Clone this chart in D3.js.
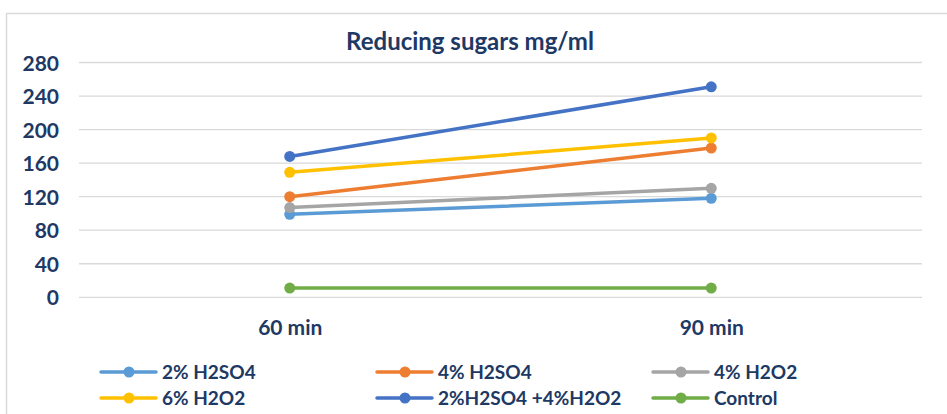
<!DOCTYPE html>
<html>
<head>
<meta charset="utf-8">
<script src="https://cdn.jsdelivr.net/npm/d3@7"></script>
<style>
  html, body { margin: 0; padding: 0; background: #fff; }
  svg { display: block; }
  text { font-family: Lato, "Open Sans", sans-serif; font-weight: 700; fill: #203864; }
</style>
</head>
<body>
<svg id="chart" width="947" height="414"></svg>
<script>
// Time points on the x axis
const categories = ["60 min", "90 min"];

// Reducing sugar concentration (mg/ml) per pretreatment
const h2so4_2 = [99, 118];
const h2so4_4 = [120, 178];
const h2o2_4 = [107, 130];
const h2o2_6 = [149, 190];
const h2so4_2_h2o2_4 = [168, 251];
const control = [11, 11];

const yTicks = [0, 40, 80, 120, 160, 200, 240, 280];

const seriesNames = ["2% H2SO4", "4% H2SO4", "4% H2O2", "6% H2O2", "2%H2SO4 +4%H2O2", "Control"];
const seriesValues = [h2so4_2, h2so4_4, h2o2_4, h2o2_6, h2so4_2_h2o2_4, control];
const seriesColors = ["#5B9BD5", "#ED7D31", "#A5A5A5", "#FFC000", "#4472C4", "#70AD47"];

const series = seriesNames.map((name, i) => ({
  name, color: seriesColors[i],
  values: categories.map((c, j) => ({ cat: c, v: seriesValues[i][j] }))
}));

const svg = d3.select("#chart");

// outer chart frame
svg.append("rect")
  .attr("x", 6.5).attr("y", 13.5).attr("width", 960).attr("height", 420)
  .attr("fill", "#fff").attr("stroke", "#D9D9D9").attr("stroke-width", 1.5);

const plot = { left: 79, right: 922, top: 62.5, bottom: 297.3 };

const x = d3.scalePoint().domain(categories).range([plot.left, plot.right]).padding(0.5);
const y = d3.scaleLinear().domain([0, 280]).range([plot.bottom, plot.top]);

// gridlines
svg.append("g")
  .selectAll("line").data(yTicks).join("line")
  .attr("x1", plot.left).attr("x2", plot.right)
  .attr("y1", d => y(d)).attr("y2", d => y(d))
  .attr("stroke", "#D9D9D9").attr("stroke-width", 1.3);

// y axis labels
const yAxis = d3.axisLeft(y).tickValues(yTicks).tickSize(0).tickPadding(0);
svg.append("g")
  .attr("transform", `translate(59,0)`)
  .call(yAxis)
  .call(g => g.select(".domain").remove())
  .call(g => g.selectAll("text")
    .attr("font-size", 21).attr("font-family", "Lato, sans-serif")
    .attr("font-weight", 700).attr("fill", "#203864").attr("dy", "0.36em"));

// x axis labels
const xAxis = d3.axisBottom(x).tickSize(0).tickPadding(0);
svg.append("g")
  .attr("transform", `translate(0,${plot.bottom})`)
  .call(xAxis)
  .call(g => g.select(".domain").remove())
  .call(g => g.selectAll("text")
    .attr("font-size", 21).attr("font-family", "Lato, sans-serif")
    .attr("font-weight", 700).attr("fill", "#203864")
    .attr("y", 38).attr("dy", 0));

// title
svg.append("text")
  .attr("x", 470).attr("y", 50).attr("text-anchor", "middle")
  .attr("font-size", 24)
  .text("Reducing sugars mg/ml");

// series lines and markers
const line = d3.line().x(d => x(d.cat)).y(d => y(d.v));
const sg = svg.append("g").selectAll("g").data(series).join("g");
sg.append("path")
  .attr("d", d => line(d.values))
  .attr("fill", "none").attr("stroke", d => d.color)
  .attr("stroke-width", 3.5).attr("stroke-linecap", "round");
sg.selectAll("circle").data(d => d.values.map(v => ({ ...v, color: d.color }))).join("circle")
  .attr("cx", d => x(d.cat)).attr("cy", d => y(d.v)).attr("r", 5.5)
  .attr("fill", d => d.color);

// legend: three columns, two rows
const legend = svg.append("g");
const colX = [101, 377, 653];
const rowY = [372, 398];
const items = legend.selectAll("g").data(series).join("g")
  .attr("transform", (d, i) => `translate(${colX[i % 3]},${rowY[Math.floor(i / 3)]})`);
items.append("line")
  .attr("x1", 0).attr("x2", 55).attr("y1", 0).attr("y2", 0)
  .attr("stroke", d => d.color).attr("stroke-width", 3.5).attr("stroke-linecap", "round");
items.append("circle").attr("cx", 28).attr("cy", 0).attr("r", 5.5).attr("fill", d => d.color);
items.append("text")
  .attr("x", 61).attr("y", 0).attr("dy", "0.36em")
  .attr("font-size", 19)
  .text(d => d.name);
</script>
</body>
</html>
